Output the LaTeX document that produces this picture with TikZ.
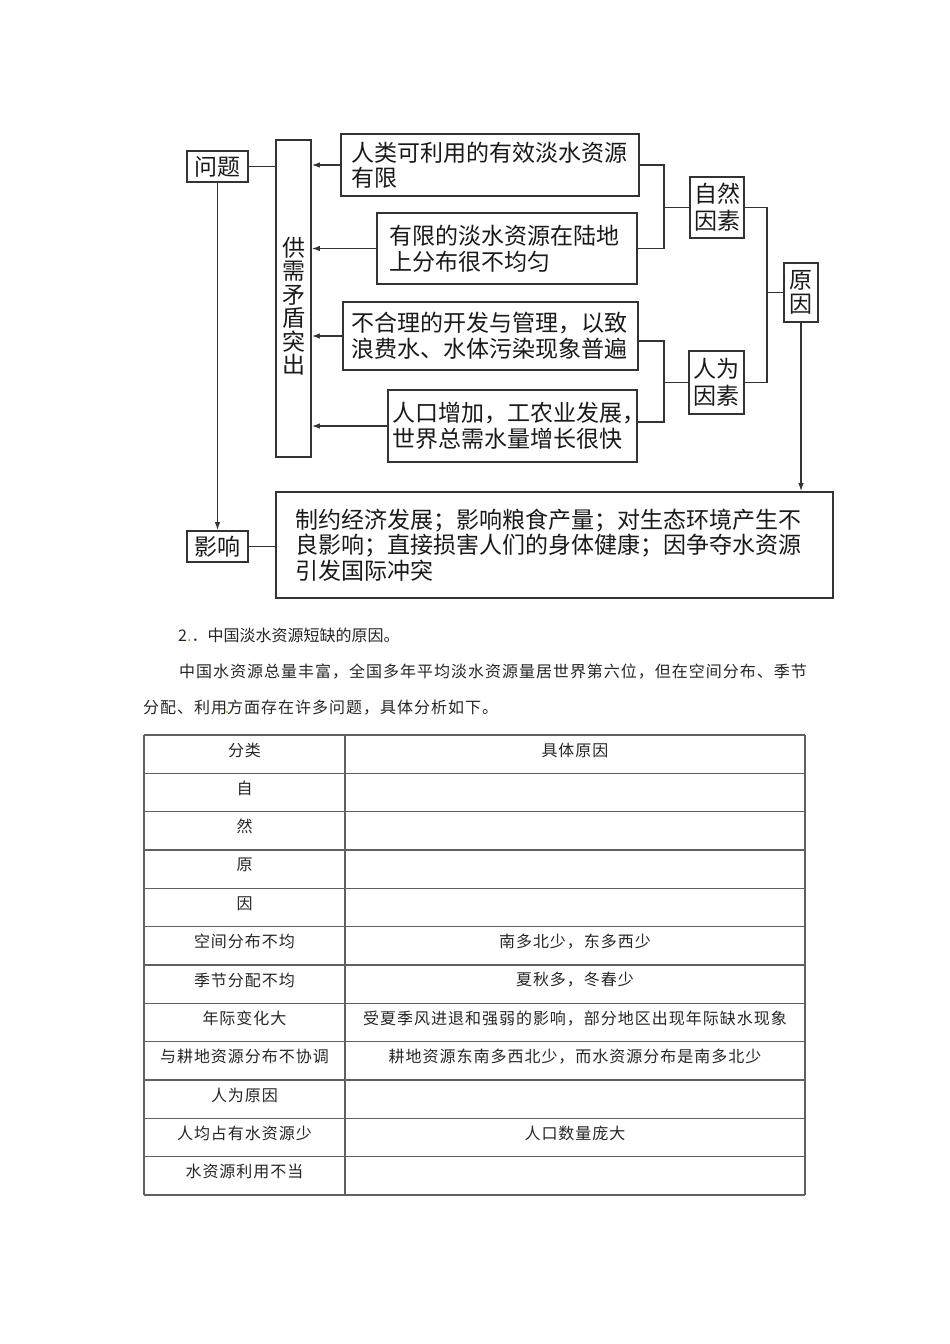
\documentclass[tikz,border=0pt]{standalone}
\usepackage{fontspec}
\newfontfamily\cjk{Noto Sans CJK SC}
\newfontfamily\cjkls[LetterSpace=6.2]{Noto Sans CJK SC}
\usetikzlibrary{arrows.meta,calc}
\definecolor{linec}{HTML}{333333}
\definecolor{txtc}{HTML}{1A1A1A}
\definecolor{tabc}{HTML}{606060}
\definecolor{markc}{HTML}{B8A040}
\begin{document}
\begin{tikzpicture}[x=1pt,y=-1pt,
  every node/.style={text=txtc},
  bigf/.style={font=\cjk\fontsize{23}{25.5}\selectfont},
  tbox/.style={draw=linec,line width=1.7pt,inner sep=0pt,bigf},
  conn/.style={draw=linec,line width=1.3pt},
  arr/.style={conn,-{Latex[length=8pt,width=5.5pt]}},
  small/.style={font=\cjkls\fontsize{16}{18}\selectfont,inner sep=0pt,text=black!85},
  tabline/.style={draw=tabc,line width=1.1pt},
]
\fill[white] (0,0) rectangle (950,1344);
\useasboundingbox (0,0) rectangle (950,1344);

% ---- left column boxes
\node[tbox,minimum width=61pt,minimum height=31pt] (wt) at (217.5,166.5) {问题};
\node[tbox,minimum width=61pt,minimum height=31pt] (yx) at (217.5,546.5) {影响};
\node[tbox,minimum width=35pt,minimum height=317pt] (gx) at (293.5,298.5)
  {\raisebox{-14pt}[0pt][0pt]{\parbox{23pt}{\centering\lineskiplimit=-20pt\fontsize{23}{23.5}\selectfont 供\\需\\矛\\盾\\突\\出}}};

% ---- cause boxes
\node[tbox,anchor=west,inner xsep=11pt,text width=276pt,minimum height=62pt,align=left] (b1) at (340,165)
  {人类可利用的有效淡水资源\\有限};
\node[tbox,anchor=west,inner xsep=13pt,text width=234pt,minimum height=71pt,align=left] (b2) at (376,248.5)
  {有限的淡水资源在陆地\\上分布很不均匀};
\node[tbox,anchor=west,inner xsep=9pt,text width=277pt,minimum height=68pt,align=left] (b3) at (342,336)
  {不合理的开发与管理，以致\\浪费水、水体污染现象普遍};
\node[tbox,anchor=west,inner xsep=5pt,text width=239pt,minimum height=72pt,align=left] (b4) at (387,426)
  {人口增加，工农业发展\makebox[9pt][l]{，}\\世界总需水量增长很快};
\node[tbox,anchor=west,inner xsep=20pt,text width=517pt,minimum height=106pt,align=left] (big) at (275,545)
  {制约经济发展；影响粮食产量；对生态环境产生不\\良影响；直接损害人们的身体健康；因争夺水资源\\引发国际冲突};

% ---- factor boxes
\node[tbox,minimum width=54pt,minimum height=61pt,align=center,font=\cjk\fontsize{23}{27}\selectfont] (zr) at (717,207.5) {自然\\因素};
\node[tbox,minimum width=55pt,minimum height=63pt,align=center,font=\cjk\fontsize{23}{27}\selectfont] (rw) at (716.5,382.5) {人为\\因素};
\node[tbox,minimum width=34pt,minimum height=59pt,align=center,font=\cjk\fontsize{23}{24}\selectfont] (yy) at (801,292.5) {原\\因};

% ---- connectors
\draw[conn] (wt.east) -- (wt.east -| gx.west);
\draw[arr] (wt.south) -- (yx.north);
\draw[conn] (yx.east) -- (yx.east -| big.west);
\foreach \b in {b1,b2,b3,b4} \draw[arr] (\b.west) -- (\b.west -| gx.east);

\coordinate (nx) at (664,0);
\coordinate (mx) at (767,0);
\draw[conn] (b1.east) -- (b1.east -| nx) -- (b2.east -| nx) -- (b2.east);
\draw[conn] (zr.west) -- (zr.west -| nx);
\coordinate (b3r) at ($(b3.east)+(0,5)$);
\coordinate (b4r) at ($(b4.east)+(0,-4)$);
\draw[conn] (b3r) -- (b3r -| nx) -- (b4r -| nx) -- (b4r);
\draw[conn] (rw.west) -- (rw.west -| nx);
\draw[conn] (zr.east) -- (zr.east -| mx) -- (rw.east -| mx) -- (rw.east);
\draw[conn] (yy.west) -- (yy.west -| mx);
\draw[arr] (yy.south) -- (yy.south |- big.north);

% ---- paragraph text
\node[anchor=west,inner sep=0pt,font=\cjk\fontsize{16}{18}\selectfont,text=black!85] (t1) at (178,635)
  {2{\color{markc}.}．中国淡水资源短缺的原因。};
\node[anchor=west,small] (t2) at (179,672)
  {中国水资源总量丰富，全国多年平均淡水资源量居世界第六位，但在空间分布、季节};
\node[anchor=west,small] (t3) at (143,708)
  {分配、利用\makebox[0pt]{\color{markc}.}方面存在许多问题，具体分析如下。};

% ---- table
\foreach \i [evaluate=\i as \yy using 735+38.333*\i] in {0,...,12}
  \draw[tabline] (144,\yy) -- (805,\yy);
\draw[tabline] (144,735) -- (144,1195);
\draw[tabline] (345,735) -- (345,1195);
\draw[tabline] (805,735) -- (805,1195);

\foreach \i/\t [evaluate=\i as \yy using 750+38.333*\i] in
  {0/分类,1/自,2/然,3/原,4/因,5/空间分布不均,6/季节分配不均,7/年际变化大,
   8/与耕地资源分布不协调,9/人为原因,10/人均占有水资源少,11/水资源利用不当}
  \node[small] (ca\i) at (244.5,\yy) {\t};
\foreach \i/\t [evaluate=\i as \yy using 750+38.333*\i] in
  {0/具体原因,5/南多北少，东多西少,6/夏秋多，冬春少,
   7/受夏季风进退和强弱的影响，部分地区出现年际缺水现象,
   8/耕地资源东南多西北少，而水资源分布是南多北少,10/人口数量庞大}
  \node[small] (cb\i) at (575,\yy) {\t};
\end{tikzpicture}
\end{document}
